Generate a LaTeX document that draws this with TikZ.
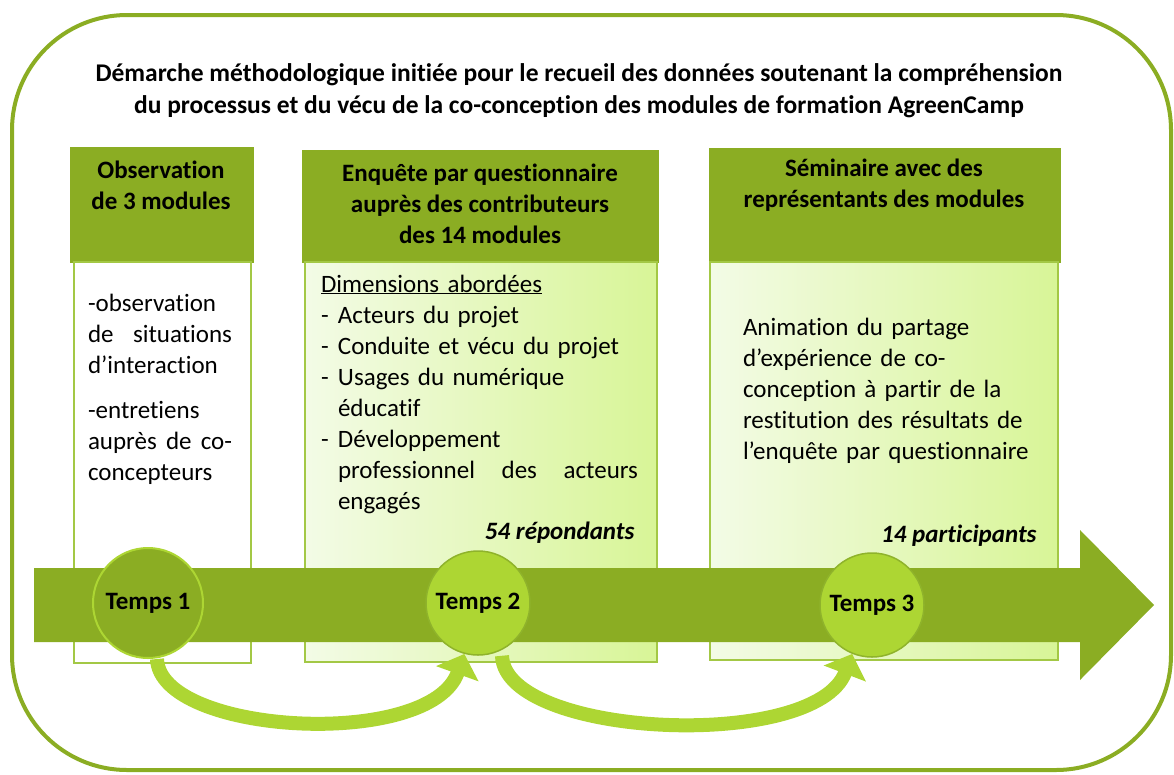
\documentclass[tikz,border=0pt]{standalone}
\usepackage{fontspec}
\setmainfont{Carlito}[Ligatures={TeX,NoCommon}]
\usepackage{xcolor}
\usepackage{tikz}
\usetikzlibrary{shapes,arrows.meta,calc,positioning}

\definecolor{agOlive}{HTML}{8BAD23}
\definecolor{agLime}{HTML}{ADD633}
\definecolor{agLimeDark}{HTML}{8FB32B}
\definecolor{agBorder}{HTML}{A3C845}
\definecolor{agPaleL}{HTML}{F3FBE6}
\definecolor{agPaleR}{HTML}{D8F597}

\tikzstyle{tsBold} = [ 
    text=black, 
    font=\fontsize{25}{31}\selectfont\bfseries
]
\tikzstyle{tsBoldItalic} = [ 
    text=black, 
    font=\fontsize{25}{31}\selectfont\bfseries\itshape
]
\tikzstyle{tsPlain} = [ 
    text=black, 
    font=\fontsize{25}{31}\selectfont
]
\tikzstyle{tsHeader} = [ 
    rectangle,
    fill=agOlive,
    draw=agOlive,
    line width=0.5pt
]
\tikzstyle{tsBody} = [ 
    rectangle,
    draw=agBorder,
    line width=2pt
]
\tikzstyle{tsGradient} = [ 
    tsBody,
    left color=agPaleL,
    right color=agPaleR
]
\tikzstyle{tsTemps} = [ 
    circle,
    tsBold,
    inner sep=0pt
]
\tikzstyle{tsCurved} = [ 
    draw=agLime,
    line width=14pt,
    -{Triangle[length=21pt, width=44pt]}
]

\begin{document}
\begin{tikzpicture}[x=1pt, y=-1pt]
    \useasboundingbox (0,0) rectangle (1174,774);

    % Frame
    \draw[agOlive, line width=4pt, rounded corners=115pt] (12,15) rectangle (1171,770);

    % Title
    \node[tsBold, font=\fontsize{25.5}{32}\selectfont\bfseries, align=center] (title) at (579,91)
        {Démarche méthodologique initiée pour le recueil des données soutenant la compréhension\\
         du processus et du vécu de la co-conception des modules de formation AgreenCamp};

    % Header boxes
    \node[tsHeader, minimum width=183pt, minimum height=115pt] (hd1) at (161.5,204.5) {};
    \node[tsHeader, minimum width=356pt, minimum height=112pt] (hd2) at (480,206) {};
    \node[tsHeader, minimum width=351pt, minimum height=114pt] (hd3) at (884.5,205) {};

    % Body boxes
    \node[tsBody, fill=white, minimum width=177pt, minimum height=401pt] (bd1) at (162.5,462.5) {};
    \node[tsGradient, minimum width=352pt, minimum height=400pt] (bd2) at (481,462) {};
    \node[tsGradient, minimum width=348pt, minimum height=398pt] (bd3) at (884,461) {};

    % Header texts
    \node[tsBold, align=center] (hd1txt) at (161,185.5) {Observation\\de 3 modules};
    \node[tsBold, align=center] (hd2txt) at (480,203.5)
        {Enquête par questionnaire\\auprès des contributeurs\\des 14 modules};
    \node[tsBold, align=center] (hd3txt) at (884,185.5) {Séminaire avec des\\représentants des modules};

    % Body texts
    \node[tsPlain, text width=144pt, align=left] (bd1txt) at (160,389.5)
        {-observation\\
         \makebox[144pt][s]{de\hfill situations}\\
         d'interaction\\[14pt]
         -entretiens\\
         \makebox[144pt][s]{auprès\hfill de\hfill co-}\\
         concepteurs};

    \node[tsPlain, text width=317pt, align=left] (bd2txt) at (479.5,394)
        {\underline{Dimensions abordées}\\
         \makebox[17pt][l]{-}Acteurs du projet\\
         \makebox[17pt][l]{-}Conduite et vécu du projet\\
         \makebox[17pt][l]{-}Usages du numérique\\
         \hspace*{17pt}éducatif\\
         \makebox[17pt][l]{-}Développement\\
         \hspace*{17pt}\makebox[300pt][s]{professionnel\hfill des\hfill acteurs}\\
         \hspace*{17pt}engagés};

    \node[tsPlain, text width=290pt, align=left] (bd3txt) at (888,391)
        {\mbox{Animation du partage}\\
         \mbox{d'expérience de co-}\\
         \mbox{conception à partir de la}\\
         \mbox{restitution des résultats de}\\
         \mbox{l'enquête par questionnaire}};

    % Counts
    \node[tsBoldItalic, anchor=east] (nbRep) at (638,533) {54 répondants};
    \node[tsBoldItalic, anchor=east] (nbPart) at (1040,536) {14 participants};

    % Timeline arrow
    \fill[agOlive] (34,568) -- (1080,568) -- (1080,530) -- (1154,605)
        -- (1080,680) -- (1080,642) -- (34,642) -- cycle;

    % Temps circles
    \node[tsTemps, minimum size=110pt, fill=agOlive, draw=agLime, line width=2pt] (t1) at (148,603) {Temps 1};
    \node[tsTemps, minimum size=104pt, fill=agLime, draw=agLimeDark, line width=1.5pt] (t2) at (478,603) {Temps 2};
    \node[tsTemps, minimum size=104pt, fill=agLime, draw=agLimeDark, line width=1.5pt] (t3) at (872,605) {Temps 3};

    % Curved arrows between circles
    \draw[tsCurved] ($(t1.south)+(9,0)$) .. controls (160,735) and (430,750) .. (t2.255);
    \draw[tsCurved] ($(t2.south)+(24,0)$) .. controls (505,738) and (815,752) .. (t3.248);

\end{tikzpicture}
\end{document}
